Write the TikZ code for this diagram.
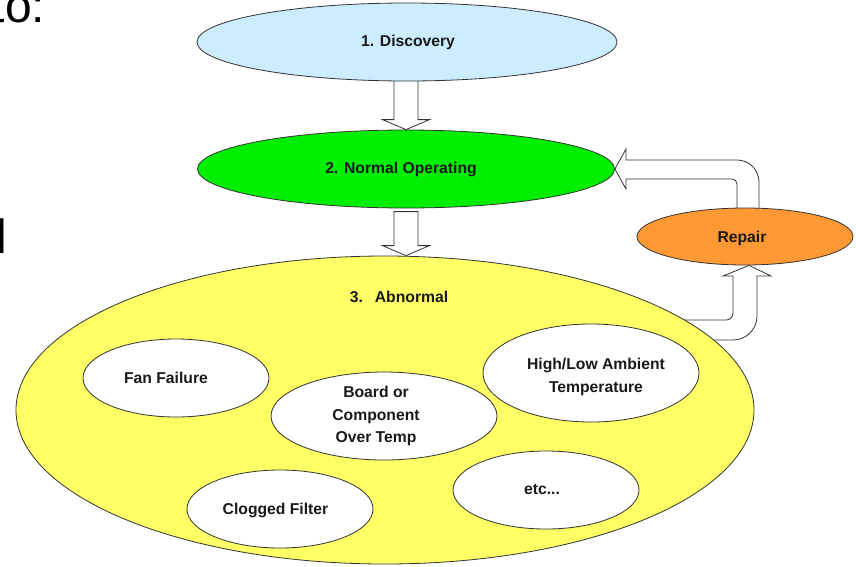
\documentclass[tikz,border=0pt]{standalone}
\usepackage{fontspec}
\setmainfont{Liberation Sans}
\usetikzlibrary{shapes.geometric,calc,backgrounds}
\definecolor{discblue}{HTML}{CCECFF}
\definecolor{normgreen}{HTML}{00EE00}
\definecolor{abnyellow}{HTML}{FFFF66}
\definecolor{reporange}{HTML}{FF9933}
\tikzset{
  oval/.style={ellipse, draw=black!80, line width=0.8pt, inner sep=0pt},
  lbl/.style={font=\fontsize{15.7}{22.5}\selectfont\bfseries, align=center, inner sep=0pt, text=black!90},
  blockarrow/.style={draw=black!80, fill=white, line width=0.8pt, line join=miter},
  frag/.style={font=\fontsize{48}{48}\selectfont, inner sep=0pt, anchor=base west}
}
\begin{document}
\begin{tikzpicture}[x=1pt,y=-1pt]
\useasboundingbox (0,0) rectangle (856,566);
% ellipses
\node[oval, fill=discblue, minimum width=420pt, minimum height=78pt] (disc) at (407,42) {};
\node[oval, fill=normgreen, minimum width=417pt, minimum height=78pt] (norm) at (406,169) {};
\node[oval, fill=abnyellow, minimum width=738pt, minimum height=308pt] (abn) at (385,410) {};
\node[oval, fill=reporange, minimum width=216pt, minimum height=57pt] (rep) at (745,236.5) {};
\node[oval, fill=white, minimum width=186pt, minimum height=78pt] (fan) at (176,378) {};
\node[oval, fill=white, minimum width=226pt, minimum height=88pt] (board) at (384,416) {};
\node[oval, fill=white, minimum width=216pt, minimum height=98pt] (hilo) at (591,373) {};
\node[oval, fill=white, minimum width=186pt, minimum height=78pt] (clog) at (280,509) {};
\node[oval, fill=white, minimum width=186pt, minimum height=78pt] (etc) at (546,490) {};
% labels
\node[lbl] (discT) at (408,42) {1. Discovery};
\node[lbl] (normT) at (401,169) {2. Normal Operating};
\node[lbl] (abnT) at (399,297) {3.\hspace{12pt}Abnormal};
\node[lbl] (repT) at (742,238) {Repair};
\node[lbl] (fanT) at (166,378) {Fan Failure};
\node[lbl] (boardT) at (376,416) {Board or\\Component\\Over Temp};
\node[lbl] (hiloT) at (596,377) {High/Low Ambient\\Temperature};
\node[lbl] (clogT) at (275.5,510) {Clogged Filter};
\node[lbl] (etcT) at (542,489) {etc...};
% cropped slide text
\node[frag] (fragA) at (-8.5,22) {to:};
\node[frag] (fragB) at (-4.2,253) {l};
% block arrows behind
\begin{scope}[on background layer]
\fill[white] (0,0) rectangle (856,566);
\coordinate (t1) at (norm.north);
\draw[blockarrow] (t1) -- ++(23.5,-10) -- ++(-11.5,0) -- ++(0,-60) -- ++(-24,0) -- ++(0,60) -- ++(-11.5,0) -- cycle;
\coordinate (t2) at (norm.south |- abn.north);
\draw[blockarrow] (t2) -- ++(23.5,-10) -- ++(-11.5,0) -- ++(0,-34) -- ++(-24,0) -- ++(0,34) -- ++(-11.5,0) -- cycle;
\draw[blockarrow] (norm.east) -- (626,149) -- (626,160) -- (737,160)
  .. controls (749.1,160) and (759,169.9) .. (759,182) -- (759,236) -- (737,236) -- (737,184)
  .. controls (737,181.2) and (734.8,179) .. (732,179) -- (626,179) -- (626,189) -- cycle;
\coordinate (t4) at ($(rep.south)+(4,0)$);
\draw[blockarrow] (t4) -- (771,276) -- (757,276) -- (757,316)
  .. controls (757,329.3) and (746.3,340) .. (733,340) -- (650,340) -- (650,320) -- (726,320)
  .. controls (729.9,320) and (733,316.9) .. (733,313) -- (733,276) -- (723,276) -- cycle;
\end{scope}
\end{tikzpicture}
\end{document}
